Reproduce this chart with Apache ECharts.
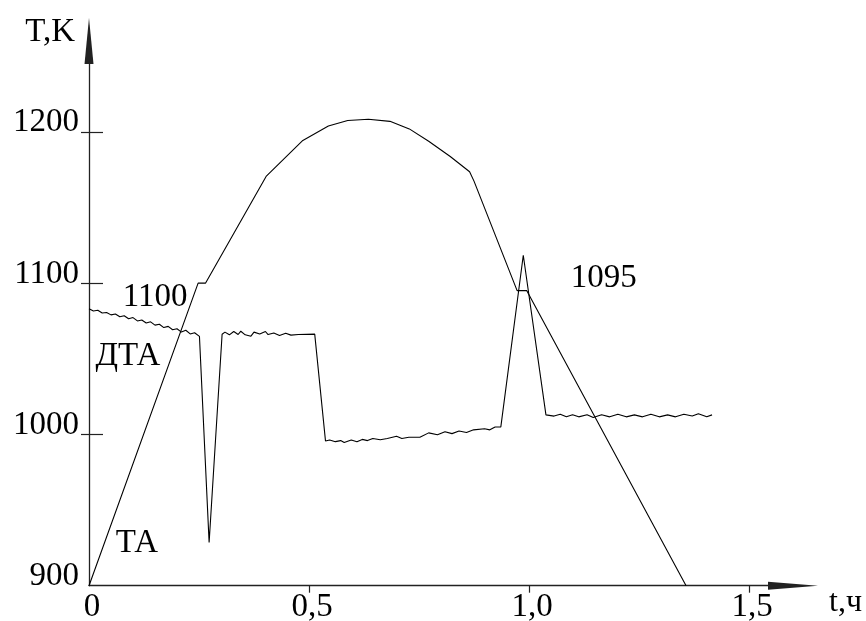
<!DOCTYPE html>
<html>
<head>
<meta charset="utf-8">
<script src="https://cdn.jsdelivr.net/npm/echarts@6/dist/echarts.min.js"></script>
<style>
  html, body { margin: 0; padding: 0; background: #fff; }
  #chart { width: 866px; height: 621px; }
</style>
</head>
<body>
<div id="chart"></div>
<script>
// Heating/cooling curve (ТА): time, h and temperature, K
const taTime = [0, 0.248, 0.265, 0.4025, 0.486, 0.544, 0.588, 0.635, 0.684, 0.728, 0.772, 0.821, 0.865, 0.875, 0.973, 0.995, 1.357];
const taTemp = [900, 1100, 1100, 1170.5, 1194.3, 1203.8, 1207.5, 1208.3, 1206.9, 1201.9, 1193.7, 1183.7, 1173.6, 1167.4, 1095, 1095, 900];

// Differential curve (ДТА): time, h
const dtaTime = [
  0, 0.01, 0.02, 0.03, 0.04, 0.05, 0.06, 0.07, 0.08, 0.09, 0.10, 0.11, 0.12, 0.13, 0.14, 0.15, 0.16, 0.17, 0.18, 0.19, 0.20, 0.21, 0.22, 0.23, 0.24, 0.251,
  0.273,
  0.3025, 0.309, 0.319, 0.329, 0.339, 0.345, 0.355, 0.368, 0.375, 0.388, 0.401, 0.407, 0.420, 0.433, 0.447, 0.459, 0.476, 0.513,
  0.5375, 0.547, 0.560, 0.572, 0.580, 0.596, 0.609, 0.621, 0.633, 0.645, 0.662, 0.678, 0.699, 0.711, 0.727, 0.752, 0.772, 0.792, 0.809, 0.825, 0.841, 0.858, 0.874, 0.899, 0.911, 0.923, 0.936,
  0.987,
  1.0385, 1.057, 1.071, 1.085, 1.099, 1.113, 1.132, 1.146, 1.165, 1.1835, 1.202, 1.221, 1.2395, 1.258, 1.277, 1.296, 1.315, 1.333, 1.352, 1.371, 1.385, 1.404, 1.416
];
// Differential curve (ДТА): signal in the temperature scale, K
const dtaTemp = [
  1083.0, 1081.6, 1082.0, 1080.2, 1080.6, 1079.0, 1079.6, 1077.8, 1078.4, 1076.4, 1077.2, 1075.0, 1075.6, 1073.6, 1074.4, 1072.2, 1072.8, 1070.6, 1071.4, 1069.2, 1069.8, 1067.6, 1068.8, 1066.4, 1067.2, 1064.8,
  928.6,
  1066.2, 1067.6, 1065.8, 1068.0, 1066.0, 1068.2, 1065.8, 1064.9, 1067.6, 1066.4, 1068.0, 1066.0, 1067.0, 1065.4, 1066.8, 1065.6, 1066.0, 1066.3,
  995.6, 996.3, 995.2, 995.9, 994.6, 996.3, 995.2, 996.7, 995.9, 997.3, 996.5, 997.3, 998.8, 997.3, 998.1, 998.1, 1001.0, 999.8, 1001.8, 1000.5, 1002.2, 1001.3, 1003.0, 1003.7, 1003.0, 1004.9, 1005.0,
  1118.4,
  1012.9, 1012.1, 1013.3, 1011.6, 1013.0, 1011.6, 1013.0, 1011.1, 1013.0, 1011.6, 1013.3, 1011.6, 1012.9, 1011.6, 1013.3, 1011.6, 1012.9, 1011.6, 1013.3, 1012.1, 1013.6, 1011.6, 1012.9
];

// Axis ticks and their labels
const xTicks = [0, 0.5, 1.0, 1.5];
const xTickLabels = ['0', '0,5', '1,0', '1,5'];
const yTicks = [900, 1000, 1100, 1200];
const yTickLabels = ['900', '1000', '1100', '1200'];

// Indices of the TA points whose temperature is written on the plot
const taMarkedIdx = [1, 15];

const FONT = 'Liberation Serif';
const INK = '#000';

const zip = (a, b) => a.map((v, i) => [v, b[i]]);

const chart = echarts.init(document.getElementById('chart'), null, { renderer: 'canvas' });

const textStyle = { fontFamily: FONT, fontSize: 33, color: INK };

chart.setOption({
  animation: false,
  backgroundColor: '#fff',
  grid: { left: 89, right: 73, top: 41, bottom: 35.3, containLabel: false, outerBoundsMode: 'none' },
  xAxis: {
    type: 'value', min: 0, max: 1.6, position: 'bottom',
    name: 't,ч', nameLocation: 'end', nameGap: 36,
    nameTextStyle: Object.assign({}, textStyle, { fontSize: 32, align: 'left', verticalAlign: 'top', padding: [1, 0, 0, 0] }),
    axisLine: { show: true, onZero: false, symbol: ['none', 'triangle'], symbolSize: [8, 50],
      lineStyle: { color: '#222', width: 1.3 } },
    axisTick: { show: true, customValues: xTicks.slice(1), inside: false, length: 7,
      lineStyle: { color: '#222', width: 1.2 } },
    axisLabel: Object.assign({}, textStyle, {
      customValues: xTicks, margin: 5, padding: [0, 0, 0, 6],
      formatter: v => xTickLabels[xTicks.indexOf(v)] ?? ''
    }),
    splitLine: { show: false }
  },
  yAxis: [{
    type: 'value', min: 900, max: 1260, position: 'left', offset: 0,
    name: 'T,K', nameLocation: 'end', nameGap: 9,
    nameTextStyle: Object.assign({}, textStyle, { align: 'right', verticalAlign: 'middle', padding: [0, 14, 0, 0] }),
    axisLine: { show: true, onZero: false, symbol: ['none', 'triangle'], symbolSize: [9, 46],
      lineStyle: { color: '#222', width: 1.3 } },
    axisTick: { show: true, customValues: yTicks.slice(1), inside: true, length: 14,
      lineStyle: { color: '#222', width: 1.2 } },
    axisLabel: Object.assign({}, textStyle, {
      customValues: yTicks, margin: 10, verticalAlign: 'bottom', lineHeight: 18,
      formatter: v => yTickLabels[yTicks.indexOf(v)] ?? ''
    }),
    splitLine: { show: false }
  }, {
    // outer half of the crossing tick marks
    type: 'value', min: 900, max: 1260, position: 'left', offset: 0,
    axisLine: { show: false },
    axisTick: { show: true, customValues: yTicks.slice(1), inside: false, length: 8,
      lineStyle: { color: '#222', width: 1.2 } },
    axisLabel: { show: false },
    splitLine: { show: false }
  }],
  series: [{
    name: 'ТА', type: 'line', data: zip(taTime, taTemp),
    showSymbol: false, smooth: false,
    lineStyle: { color: INK, width: 1.1 },
    markPoint: {
      symbol: 'circle', symbolSize: 0, silent: true,
      label: Object.assign({}, textStyle, { show: true, position: 'inside' }),
      data: [
        { coord: [taTime[taMarkedIdx[0]], taTemp[taMarkedIdx[0]]], value: taTemp[taMarkedIdx[0]],
          label: { offset: [-43, 14], formatter: '{c}' } },
        { coord: [taTime[taMarkedIdx[1]], taTemp[taMarkedIdx[1]]], value: taTemp[taMarkedIdx[1]],
          label: { offset: [77, -12], formatter: '{c}' } },
        { coord: [0.109, 927.9], label: { formatter: '{a}' } }
      ]
    }
  }, {
    name: 'ДТА', type: 'line', data: zip(dtaTime, dtaTemp),
    showSymbol: false, smooth: false,
    lineStyle: { color: INK, width: 1.1 },
    markPoint: {
      symbol: 'circle', symbolSize: 0, silent: true,
      label: Object.assign({}, textStyle, { show: true, position: 'inside' }),
      data: [
        { coord: [0.0886, 1051.8], label: { formatter: '{a}' } }
      ]
    }
  }]
});
</script>
</body>
</html>
